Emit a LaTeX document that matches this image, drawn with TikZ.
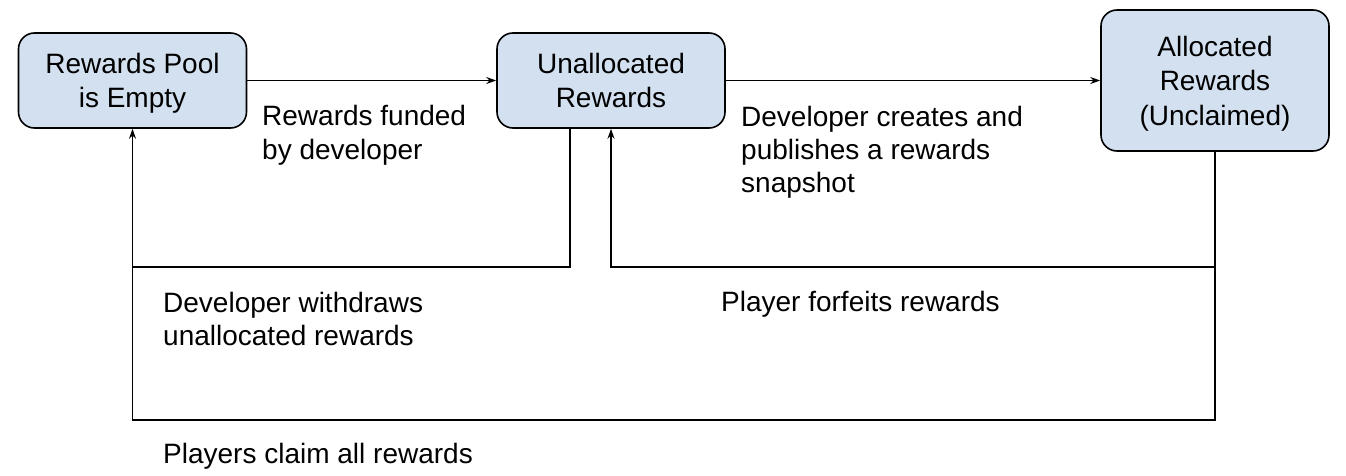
\documentclass[tikz,border=0pt]{standalone}
\usepackage{fontspec}
\setmainfont{Liberation Sans}
\usetikzlibrary{arrows.meta}
\definecolor{boxfill}{RGB}{211,224,240}
\tikzset{
  statebox/.style={draw=black, line width=1.6pt, fill=boxfill, rounded corners=16pt,
    minimum width=228pt, align=center, inner sep=0pt, text depth=0pt,
    font=\fontsize{28}{34.5}\selectfont},
  conn/.style={line width=1.5pt, draw=black},
  arr/.style={conn, -{Stealth[length=10pt,width=7pt]}},
  lbl/.style={anchor=base west, align=left, inner sep=0pt,
    font=\fontsize{28}{33}\selectfont}
}
\begin{document}
\begin{tikzpicture}[x=1pt,y=-1pt]
\useasboundingbox (0,0) rectangle (1346,476);
\node[statebox, minimum height=95pt] (b1) at (132.5,80.5) {Rewards Pool\\is Empty};
\node[statebox, minimum height=95pt] (b2) at (611,80.5) {Unallocated\\Rewards};
\node[statebox, minimum height=141pt] (b3) at (1215,80.5) {Allocated\\Rewards\\(Unclaimed)};

\coordinate (r1) at (570,267);
\coordinate (r5) at (132.5,267);
\coordinate (r6) at (611,267);
\coordinate (r2) at (1215,267);
\coordinate (r3) at (1215,420);

\draw[arr] (b1.east) -- (b2.west);
\draw[arr] (b2.east) -- (b3.west);
\draw[arr] (b2.south -| r1) -- (r1) -- (r5) -- (b1.south);
\draw[arr] (b3.south) -- (r2) -- (r6) -- (b2.south);
\draw[conn] (r2) -- (r3) -| (r5);

\node[lbl] (t1) at (262,159) {Rewards funded\\by developer};
\node[lbl] (t2) at (741,192) {Developer creates and\\publishes a rewards\\snapshot};
\node[lbl] (t3) at (163,345) {Developer withdraws\\unallocated rewards};
\node[lbl] (t4) at (721,311) {Player forfeits rewards};
\node[lbl] (t5) at (163,463) {Players claim all rewards};
\end{tikzpicture}
\end{document}
